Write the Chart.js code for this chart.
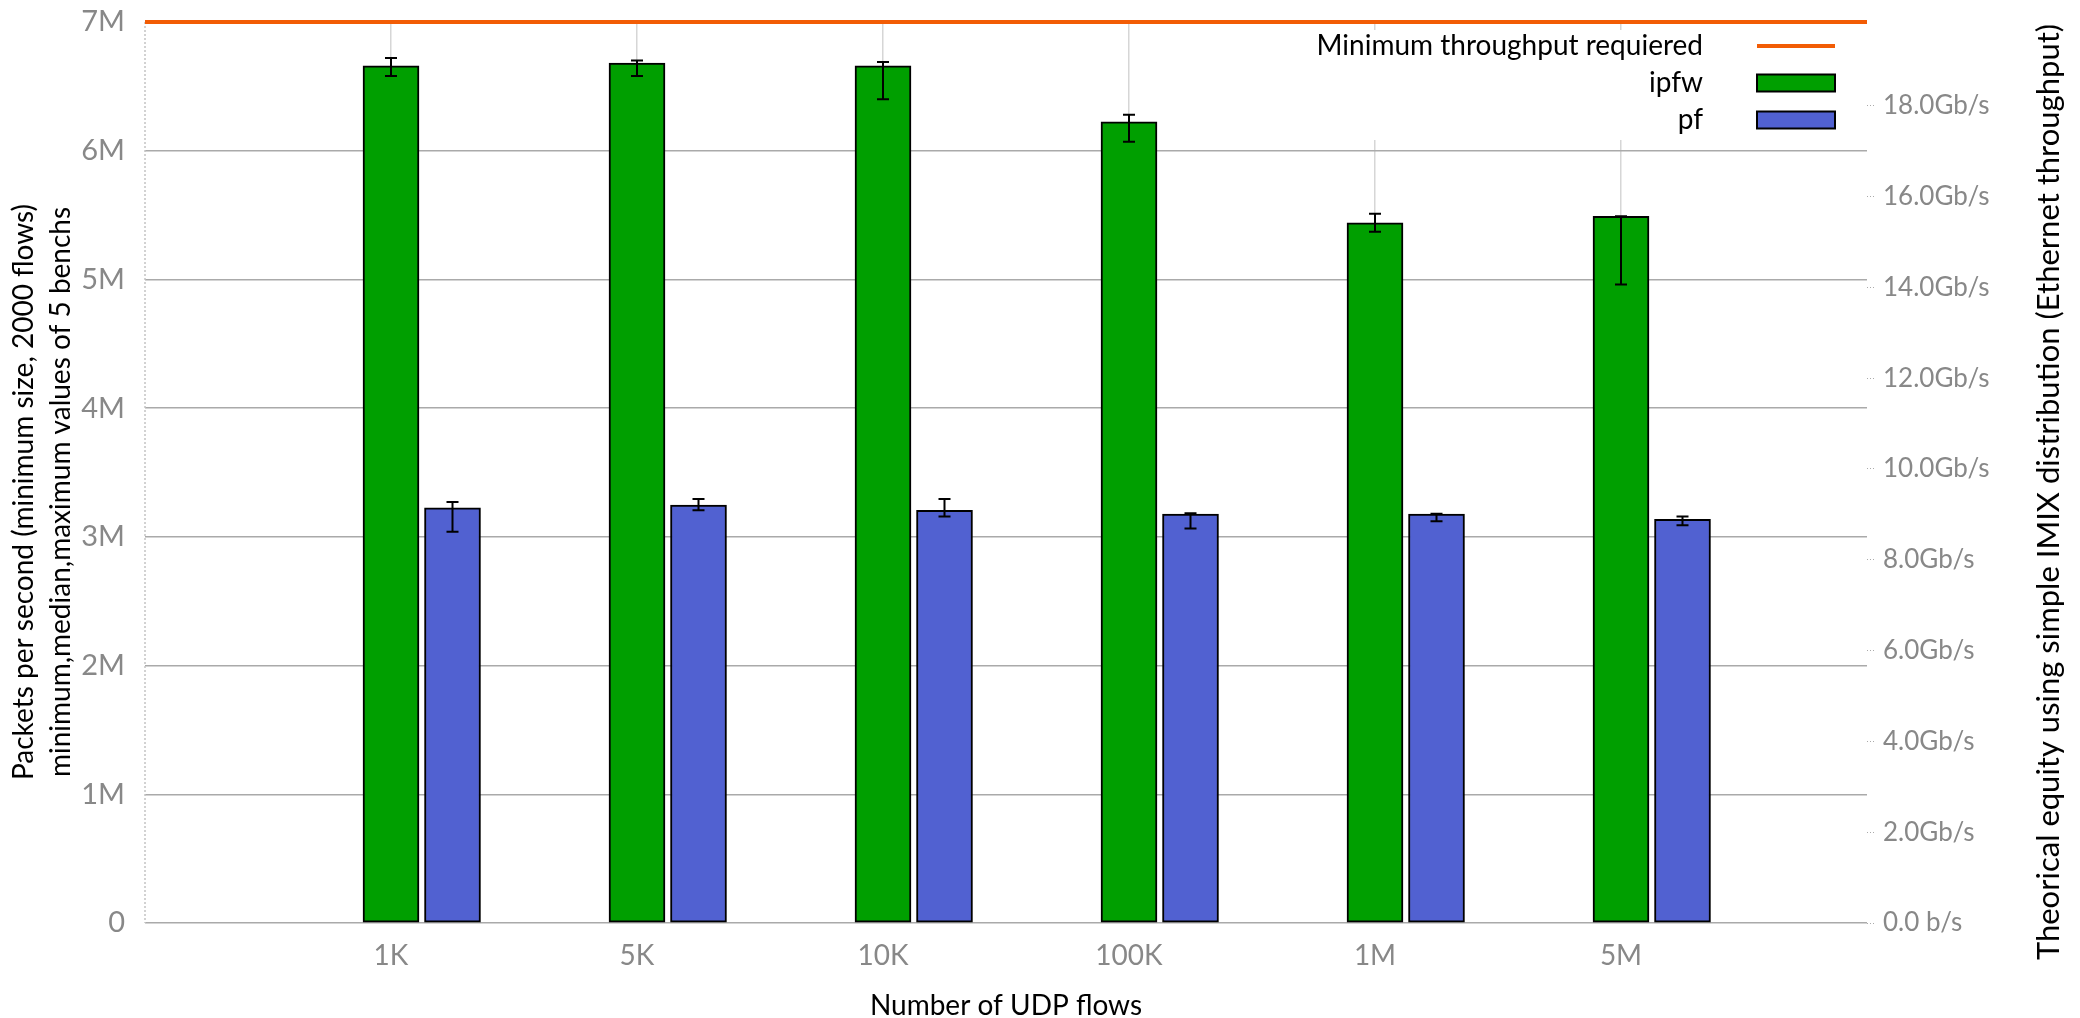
<!DOCTYPE html>
<html>
<head>
<meta charset="utf-8">
<script src="https://cdn.jsdelivr.net/npm/chart.js@4.4.1/dist/chart.umd.min.js"></script>
<style>
  html, body { margin: 0; padding: 0; background: #fff; }
  #wrap { width: 2080px; height: 1018px; }
</style>
</head>
<body>
<div id="wrap"><canvas id="chart" width="2080" height="1018"></canvas></div>
<script>
// Number of UDP flows tested
const flowCounts = ['1K', '5K', '10K', '100K', '1M', '5M'];

// ipfw: median / minimum / maximum packets per second over 5 benchs
const ipfwMedian = [6.66e6, 6.68e6, 6.66e6, 6.225e6, 5.44e6, 5.49e6];
const ipfwMin    = [6.58e6, 6.58e6, 6.40e6, 6.07e6, 5.37e6, 4.96e6];
const ipfwMax    = [6.72e6, 6.70e6, 6.69e6, 6.28e6, 5.51e6, 5.49e6];

// pf: median / minimum / maximum packets per second over 5 benchs
const pfMedian = [3.225e6, 3.246e6, 3.207e6, 3.176e6, 3.176e6, 3.137e6];
const pfMin    = [3.04e6, 3.207e6, 3.158e6, 3.064e6, 3.121e6, 3.09e6];
const pfMax    = [3.27e6, 3.295e6, 3.295e6, 3.183e6, 3.18e6, 3.158e6];

// Minimum throughput required (packets per second)
const minimumRequired = 7e6;

// Left axis ticks (pps) and right axis ticks (bit/s)
const ppsTicks = [0, 1e6, 2e6, 3e6, 4e6, 5e6, 6e6, 7e6];
const bpsTicks = [0, 2e9, 4e9, 6e9, 8e9, 10e9, 12e9, 14e9, 16e9, 18e9];

// Simple IMIX (7x64, 4x576, 1x1500 bytes): average frame size in bits
const imixBitsPerPacket = ((7 * 64 + 4 * 576 + 1500) / 12) * 8;

const FONT = 'Lato, "Open Sans", sans-serif';
const PF_SHIFT = 0.25;

// Fixed axis boxes so the plotting area does not move with label sizes
const fixBox = (w, h) => s => {
  if (w !== null) s.width = w;
  if (h !== null) s.height = h;
  s.paddingTop = 0; s.paddingBottom = 0;
  s.paddingLeft = 0; s.paddingRight = 0;
};

const leftBorder = {
  id: 'leftBorder',
  beforeDatasetsDraw(chart) {
    const { ctx, chartArea } = chart;
    ctx.save();
    ctx.strokeStyle = '#c4c4c4';
    ctx.lineWidth = 1.5;
    ctx.setLineDash([2, 2]);
    ctx.beginPath();
    ctx.moveTo(chartArea.left, chartArea.top);
    ctx.lineTo(chartArea.left, chartArea.bottom);
    ctx.stroke();
    ctx.restore();
  }
};

const errorBars = {
  id: 'errorBars',
  afterDatasetsDraw(chart) {
    const { ctx, scales: { x, y } } = chart;
    const series = [
      { shift: 0, lo: ipfwMin, hi: ipfwMax },
      { shift: PF_SHIFT, lo: pfMin, hi: pfMax }
    ];
    ctx.save();
    ctx.strokeStyle = '#000';
    ctx.lineWidth = 2;
    series.forEach(s => {
      flowCounts.forEach((_, i) => {
        const px = x.getPixelForValue(i + s.shift);
        const yl = y.getPixelForValue(s.lo[i]);
        const yh = y.getPixelForValue(s.hi[i]);
        ctx.beginPath();
        ctx.moveTo(px, yl); ctx.lineTo(px, yh);
        ctx.moveTo(px - 6, yl); ctx.lineTo(px + 6, yl);
        ctx.moveTo(px - 6, yh); ctx.lineTo(px + 6, yh);
        ctx.stroke();
      });
    });
    ctx.restore();
  }
};

const keyBox = {
  id: 'keyBox',
  afterDatasetsDraw(chart) {
    const { ctx, chartArea } = chart;
    const ds = chart.data.datasets;
    ctx.save();
    ctx.fillStyle = '#fff';
    ctx.fillRect(1305, 30, chartArea.right - 1306, 110);
    ctx.font = '28px ' + FONT;
    ctx.textAlign = 'right';
    ctx.textBaseline = 'middle';
    const textRight = 1703, sx = 1757, sw = 78;
    const rows = [46, 83, 120];
    ds.forEach((d, k) => {
      const cy = rows[k];
      ctx.fillStyle = '#000';
      ctx.fillText(d.label, textRight, cy);
      if (d.type === 'line') {
        ctx.strokeStyle = d.borderColor;
        ctx.lineWidth = 4;
        ctx.beginPath(); ctx.moveTo(sx, cy); ctx.lineTo(sx + sw, cy); ctx.stroke();
      } else {
        ctx.fillStyle = d.backgroundColor;
        ctx.fillRect(sx, cy - 8.5, sw, 17);
        ctx.strokeStyle = '#000';
        ctx.lineWidth = 2;
        ctx.strokeRect(sx, cy - 8.5, sw, 17);
      }
    });
    ctx.restore();
  }
};

const axisTitles = {
  id: 'axisTitles',
  afterDraw(chart) {
    const { ctx, chartArea } = chart;
    const midY = 492;
    ctx.save();
    ctx.fillStyle = '#000';
    ctx.textAlign = 'center';
    ctx.textBaseline = 'alphabetic';
    const vtext = (t, bx, size) => {
      ctx.save();
      ctx.font = size + 'px ' + FONT;
      ctx.translate(bx, midY);
      ctx.rotate(-Math.PI / 2);
      ctx.fillText(t, 0, 0);
      ctx.restore();
    };
    vtext('Packets per second (minimum size, 2000 flows)', 33, 28);
    vtext('minimum,median,maximum values of 5 benchs', 70, 28);
    vtext('Theorical equity using simple IMIX distribution (Ethernet throughput)', 2059, 31);
    ctx.font = '28px ' + FONT;
    ctx.fillText('Number of UDP flows', (chartArea.left + chartArea.right) / 2, 1015);
    ctx.restore();
  }
};

new Chart(document.getElementById('chart'), {
  type: 'bar',
  data: {
    datasets: [
      {
        type: 'line',
        label: 'Minimum throughput requiered',
        data: [{ x: -1, y: minimumRequired }, { x: 6, y: minimumRequired }],
        borderColor: '#f25c05',
        borderWidth: 4,
        pointRadius: 0,
        clip: false,
        yAxisID: 'y'
      },
      {
        label: 'ipfw',
        data: flowCounts.map((_, i) => ({ x: i, y: ipfwMedian[i] })),
        backgroundColor: '#009f00',
        borderColor: '#000',
        borderWidth: 2,
        borderSkipped: false,
        barThickness: 56,
        grouped: false,
        yAxisID: 'y'
      },
      {
        label: 'pf',
        data: flowCounts.map((_, i) => ({ x: i + PF_SHIFT, y: pfMedian[i] })),
        backgroundColor: '#5161d1',
        borderColor: '#000',
        borderWidth: 2,
        borderSkipped: false,
        barThickness: 56,
        grouped: false,
        yAxisID: 'y'
      }
    ]
  },
  options: {
    responsive: false,
    devicePixelRatio: 1,
    animation: false,
    layout: { padding: { top: 22, left: 0, right: 0, bottom: 0 } },
    plugins: { legend: { display: false }, tooltip: { enabled: false } },
    scales: {
      x: {
        type: 'linear',
        min: -1,
        max: 6,
        offset: false,
        afterBuildTicks: s => { s.ticks = flowCounts.map((_, i) => ({ value: i })); },
        afterFit: fixBox(null, 95),
        ticks: {
          callback: v => flowCounts[v] ?? '',
          color: '#888',
          font: { family: FONT, size: 28 },
          padding: 16,
          maxRotation: 0,
          autoSkip: false
        },
        grid: { color: '#d6d6d6', lineWidth: 1.5, drawTicks: false, offset: false },
        border: { display: false }
      },
      y: {
        position: 'left',
        min: 0,
        max: 7e6,
        afterBuildTicks: s => { s.ticks = ppsTicks.map(v => ({ value: v })); },
        afterFit: fixBox(145, null),
        ticks: {
          callback: v => (v === 0 ? '0' : v / 1e6 + 'M'),
          color: '#888',
          font: { family: FONT, size: 29 },
          padding: 20
        },
        grid: { color: '#aaa', lineWidth: 1.5, drawTicks: false },
        border: { display: false }
      },
      y2: {
        position: 'right',
        min: 0,
        max: minimumRequired * imixBitsPerPacket,
        afterBuildTicks: s => { s.ticks = bpsTicks.map(v => ({ value: v })); },
        afterFit: fixBox(213, null),
        ticks: {
          callback: v => (v === 0 ? '0.0 b/s' : (v / 1e9).toFixed(1) + 'Gb/s'),
          color: '#888',
          font: { family: FONT, size: 26 },
          padding: 8
        },
        grid: {
          drawOnChartArea: false,
          drawTicks: true,
          tickLength: 8,
          tickColor: '#aaa',
          tickBorderDash: [1, 2],
          tickWidth: 1
        },
        border: { display: false }
      }
    }
  },
  plugins: [leftBorder, errorBars, keyBox, axisTitles]
});
</script>
</body>
</html>
